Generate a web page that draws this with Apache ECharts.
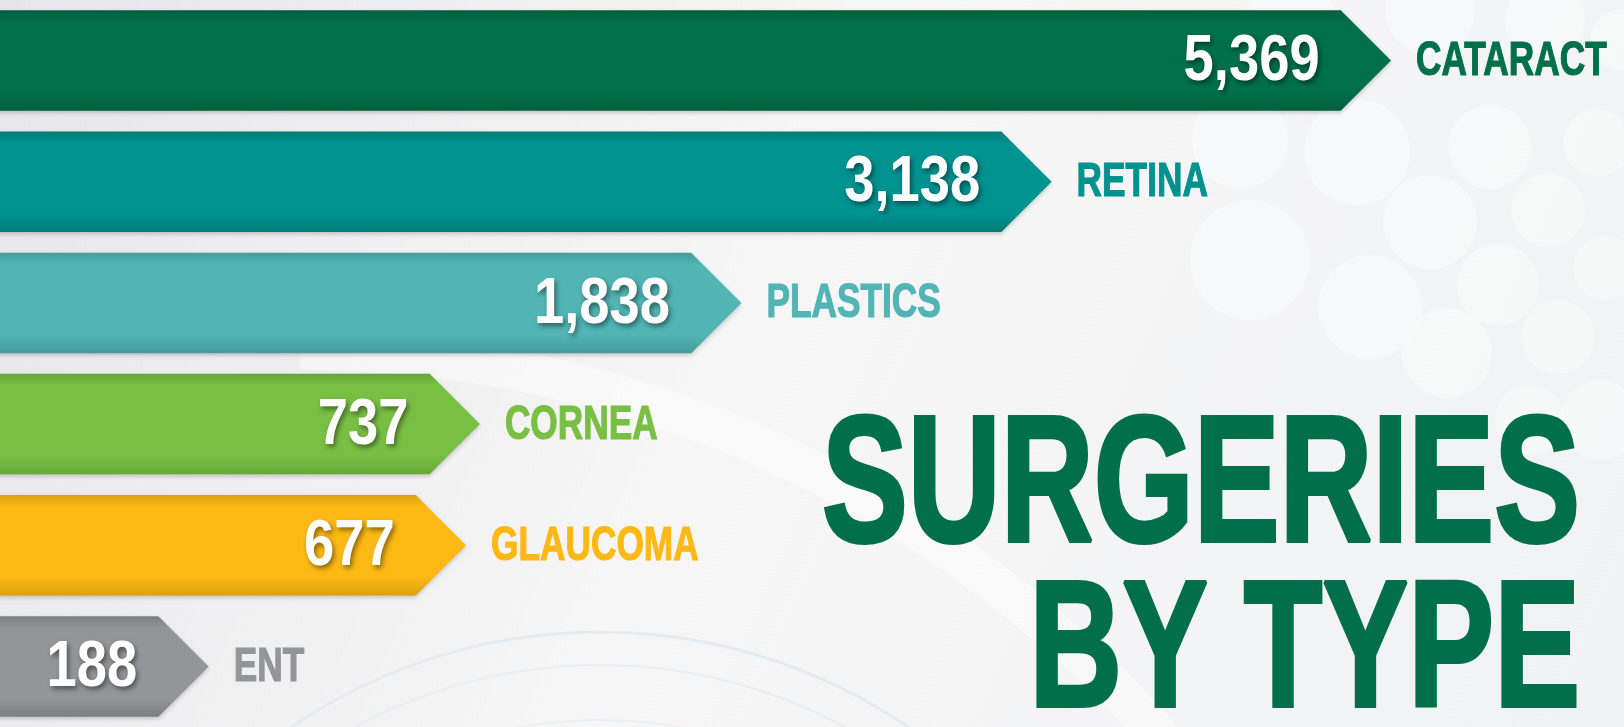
<!DOCTYPE html>
<html>
<head>
<meta charset="utf-8">
<script src="https://cdn.jsdelivr.net/npm/echarts@6/dist/echarts.min.js"></script>
<style>html,body{margin:0;padding:0;overflow:hidden;}#c{width:1624px;height:727px;}</style>
</head>
<body>
<div id="c"></div>
<script>
// Data
const categories = ['CATARACT', 'RETINA', 'PLASTICS', 'CORNEA', 'GLAUCOMA', 'ENT'];
const surgeries = [5369, 3138, 1838, 737, 677, 188];
// drawn bar lengths (the infographic does not scale them linearly), read as % of the longest bar
const barLength = [100, 75.6, 53.3, 34.5, 33.5, 15.0];
const barColors = ['#00704A', '#00928F', '#52B4B4', '#79BF43', '#FDB913', '#939598'];
const edgeColors = ['#005E3D', '#007C79', '#449C9C', '#66A738', '#DCA00E', '#7C7E81'];
const titleLines = ['SURGERIES', 'BY TYPE'];

const FONT = '"Liberation Sans", Arial, "Roboto", sans-serif';

const chart = echarts.init(document.getElementById('c'), null, {renderer: 'canvas'});

const bubbles = [
  [1357,152,53],[1430,222,47],[1490,147,42],[1548,210,37],[1597,143,34],[1498,285,41],
  [1370,307,52],[1558,337,37],[1605,268,32],[1447,353,45],[1240,140,48],[1290,20,45],
  [1430,10,45],[1545,20,40],[1620,40,30],[1600,420,40],[1530,420,35],[1250,260,60]
];
const bgGraphics = bubbles.map(b => ({
  type: 'circle', z: -10, silent: true,
  shape: {cx: b[0], cy: b[1], r: b[2]},
  style: {fill: 'rgba(250,251,252,0.55)'}
}));
// faint arcs at the bottom
bgGraphics.push(
  {type: 'arc', z: -9, silent: true, shape: {cx: 600, cy: 1180, r: 548, startAngle: -Math.PI*0.88, endAngle: -Math.PI*0.2}, style: {stroke: '#e5ecf0', lineWidth: 3, fill: null}},
  {type: 'arc', z: -9, silent: true, shape: {cx: 600, cy: 1180, r: 515, startAngle: -Math.PI*0.9, endAngle: -Math.PI*0.18}, style: {stroke: '#e8eef2', lineWidth: 2, fill: null}},
  {type: 'arc', z: -9, silent: true, shape: {cx: 600, cy: 1180, r: 460, startAngle: -Math.PI*0.9, endAngle: -Math.PI*0.15}, style: {stroke: '#eaf0f3', lineWidth: 2, fill: null}},
  {type: 'arc', z: -9, silent: true, shape: {cx: 300, cy: 1500, r: 1150, startAngle: -Math.PI*0.5, endAngle: -Math.PI*0.22}, style: {stroke: 'rgba(255,255,255,0.4)', lineWidth: 40, fill: null}}
);

const titleGraphics = titleLines.map((t, i) => ({
  type: 'text', z: 20, x: 1580, y: i === 0 ? 491 : 656, scaleX: 0.715,
  style: {
    text: t, fill: '#006F4A', font: 'bold 180px ' + FONT,
    stroke: '#006F4A', lineWidth: 4,
    align: 'right', verticalAlign: 'middle'
  }
}));

const seriesData = barLength.map((v, i) => [v, i, surgeries[i]]);

function renderItem(params, api) {
  const idx = api.value(1);
  const tip = api.coord([api.value(0), idx]);
  const start = api.coord([0, idx]);
  const band = api.size([0, 1])[1];
  const h = band * 0.83;
  const top = tip[1] - h / 2, bottom = tip[1] + h / 2;
  const neck = tip[0] - h / 2;
  const c = barColors[idx], e = edgeColors[idx];
  return {
    type: 'group',
    children: [
      {
        type: 'polygon',
        shape: {points: [[start[0] - 10, top], [neck, top], [tip[0], tip[1]], [neck, bottom], [start[0] - 10, bottom]]},
        style: {
          fill: new echarts.graphic.LinearGradient(0, 0, 0, 1, [
            {offset: 0, color: e}, {offset: 0.12, color: c}, {offset: 0.82, color: c}, {offset: 1, color: e}
          ]),
          shadowColor: 'rgba(0,0,0,0.2)', shadowBlur: 4, shadowOffsetY: 2
        }
      },
      {
        type: 'text', x: neck - 21, y: tip[1] + 2, scaleX: 0.85,
        style: {
          text: echarts.format.addCommas(api.value(2)),
          fill: '#ffffff', font: 'bold 64px ' + FONT,
          align: 'right', verticalAlign: 'middle',
          textShadowColor: 'rgba(0,0,0,0.45)', textShadowBlur: 5, textShadowOffsetX: 2, textShadowOffsetY: 3
        }
      },
      {
        type: 'text', x: tip[0] + 25, y: tip[1] + 1, scaleX: 0.72,
        style: {
          text: categories[idx], fill: c, font: 'bold 49px ' + FONT,
          stroke: c, lineWidth: 1.2,
          align: 'left', verticalAlign: 'middle'
        }
      }
    ]
  };
}

chart.setOption({
  backgroundColor: new echarts.graphic.LinearGradient(0, 0, 1, 1, [
    {offset: 0, color: '#e6e6e8'}, {offset: 0.45, color: '#f6f6f7'}, {offset: 1, color: '#f1f2f3'}
  ]),
  animation: false,
  grid: {left: 0, width: 1391, top: -6, height: 742, containLabel: false},
  xAxis: {type: 'value', min: 0, max: 100, show: false},
  yAxis: {type: 'category', data: categories, inverse: true, show: false},
  graphic: bgGraphics.concat(titleGraphics),
  series: [{
    type: 'custom',
    renderItem: renderItem,
    clip: false,
    encode: {x: 0, y: 1},
    data: seriesData,
    z: 5
  }]
});
</script>
</body>
</html>
